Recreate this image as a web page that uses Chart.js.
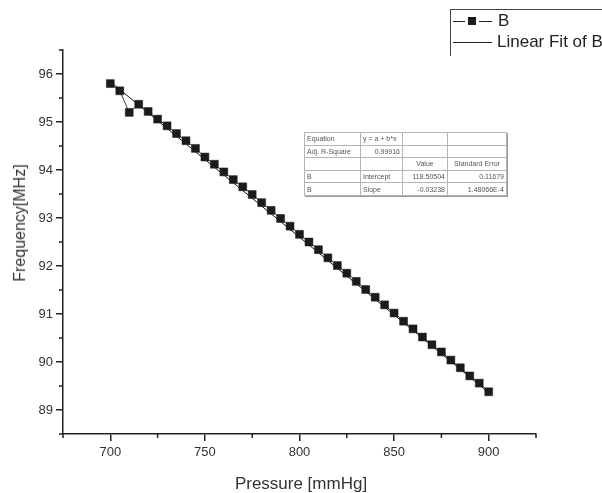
<!DOCTYPE html>
<html>
<head>
<meta charset="utf-8">
<script src="https://cdn.jsdelivr.net/npm/chart.js@4.4.1/dist/chart.umd.min.js"></script>
<style>
    body { margin: 0; background: #fff; font-family: "Liberation Sans", Arial, sans-serif; }
    #wrap { position: relative; width: 602px; height: 493px; overflow: hidden; }
    #chart { position: absolute; left: 0; top: 0; }
    .axis-title { position: absolute; color: #333; white-space: nowrap; transform: translate(-50%, -50%); }
    #ytitle { left: 20px; top: 223px; font-size: 16px; transform: translate(-50%, -50%) rotate(-90deg); }
    #xtitle { left: 301px; top: 484px; font-size: 17px; }
    #legend { position: absolute; left: 450px; top: 9px; width: 200px; height: 46px;
              border-top: 1px solid #444; border-left: 1px solid #444; }
    .lg-line { position: absolute; height: 1px; background: #222; }
    .lg-sq { position: absolute; width: 8px; height: 8px; background: #1b1b1b; }
    .lg-text { position: absolute; font-size: 17px; line-height: 20px; height: 20px; color: #222; white-space: nowrap; }
    #fit-table { position: absolute; left: 304px; top: 132px; border-collapse: collapse;
                 background: #fff; font-size: 7px; color: #555; box-shadow: 1px 1px 0 #999; }
    #fit-table td { border: 1px solid #b5b5b5; height: 11.6px; padding: 0 2px; line-height: 11px; white-space: nowrap; }
    #fit-table { border: 1px solid #888; }
    .r { text-align: right; }
    .c { text-align: center; }
</style>
</head>
<body>
<div id="wrap">
    <canvas id="chart" width="602" height="493"></canvas>
    <div class="axis-title" id="ytitle">Frequency[MHz]</div>
    <div class="axis-title" id="xtitle">Pressure [mmHg]</div>

    <div id="legend"></div>
    <div class="lg-line" style="left:453px; top:21px; width:12px;"></div>
    <div class="lg-sq" style="left:468px; top:17px;"></div>
    <div class="lg-line" style="left:479px; top:21px; width:13px;"></div>
    <div class="lg-text" style="left:498px; top:11px;">B</div>
    <div class="lg-line" style="left:453px; top:42px; width:39px;"></div>
    <div class="lg-text" style="left:497px; top:32px;">Linear Fit of B</div>

    <table id="fit-table">
        <tr><td style="width:51px">Equation</td><td style="width:37px">y = a + b*x</td><td style="width:40px"></td><td style="width:54px"></td></tr>
        <tr><td>Adj. R-Square</td><td class="r">0.99916</td><td></td><td></td></tr>
        <tr><td></td><td></td><td class="c">Value</td><td class="c">Standard Error</td></tr>
        <tr><td>B</td><td>Intercept</td><td class="r">118.50504</td><td class="r">0.11679</td></tr>
        <tr><td>B</td><td>Slope</td><td class="r">-0.03238</td><td class="r">1.48066E-4</td></tr>
    </table>
</div>

<script>
// Measured points (Pressure in mmHg, Frequency in MHz)
const pressure = [700, 705, 710, 715, 720, 725, 730, 735, 740, 745,
                  750, 755, 760, 765, 770, 775, 780, 785, 790, 795,
                  800, 805, 810, 815, 820, 825, 830, 835, 840, 845,
                  850, 855, 860, 865, 870, 875, 880, 885, 890, 895, 900];
const frequency = [95.80, 95.65, 95.20, 95.37, 95.22, 95.06, 94.92, 94.76, 94.61, 94.45,
                   94.27, 94.12, 93.96, 93.80, 93.65, 93.49, 93.32, 93.16, 92.99, 92.83,
                   92.66, 92.50, 92.34, 92.17, 92.01, 91.85, 91.68, 91.51, 91.35, 91.19,
                   91.02, 90.85, 90.69, 90.52, 90.36, 90.21, 90.04, 89.88, 89.71, 89.56, 89.38];

// Linear fit end points
const fitX = [700, 900];
const fitY = [95.839, 89.363];

// Tick positions
const xMajor = [700, 750, 800, 850, 900];
const yMajor = [89, 90, 91, 92, 93, 94, 95, 96];
const xMinor = [675, 725, 775, 825, 875, 925];
const yMinor = [88.5, 89.5, 90.5, 91.5, 92.5, 93.5, 94.5, 95.5, 96.5];

const axisColor = '#222';

// Origin-style short minor ticks, drawn outward
const minorTicks = {
    id: 'minorTicks',
    afterDraw(chart) {
        const ctx = chart.ctx;
        const xs = chart.scales.x;
        const ys = chart.scales.y;
        ctx.save();
        ctx.strokeStyle = axisColor;
        ctx.lineWidth = 1.5;
        xMinor.forEach(v => {
            const px = xs.getPixelForValue(v);
            ctx.beginPath();
            ctx.moveTo(px, xs.top);
            ctx.lineTo(px, xs.top + 4);
            ctx.stroke();
        });
        yMinor.forEach(v => {
            const py = ys.getPixelForValue(v);
            ctx.beginPath();
            ctx.moveTo(ys.right, py);
            ctx.lineTo(ys.right - 4, py);
            ctx.stroke();
        });
        ctx.restore();
    }
};

const tickFont = { family: '"Liberation Sans", Arial, sans-serif', size: 13 };

const ctx = document.getElementById('chart').getContext('2d');
const chart = new Chart(ctx, {
    type: 'scatter',
    data: {
        datasets: [{
            label: 'B',
            data: pressure.map((p, i) => ({ x: p, y: frequency[i] })),
            showLine: true,
            borderColor: '#444',
            borderWidth: 1,
            pointStyle: 'rect',
            pointRadius: 5.6,
            pointBackgroundColor: '#1b1b1b',
            pointBorderColor: '#1b1b1b',
            pointBorderWidth: 0.5,
            order: 1
        }, {
            label: 'Linear Fit of B',
            data: fitX.map((p, i) => ({ x: p, y: fitY[i] })),
            showLine: true,
            borderColor: '#111',
            borderWidth: 1,
            pointRadius: 0,
            order: 2
        }]
    },
    options: {
        responsive: false,
        animation: false,
        layout: { padding: { left: 0, right: 66, top: 50, bottom: 0 } },
        plugins: {
            legend: { display: false },
            tooltip: { enabled: false }
        },
        scales: {
            x: {
                type: 'linear',
                position: 'bottom',
                min: 675,
                max: 925,
                afterFit(scale) { scale.height = 59; },
                afterBuildTicks(scale) { scale.ticks = xMajor.map(v => ({ value: v })); },
                ticks: { color: '#333', font: tickFont, padding: 4 },
                grid: { drawOnChartArea: false, drawTicks: true, tickLength: 7, color: axisColor, lineWidth: 1.5 },
                border: { color: axisColor, width: 1.5 }
            },
            y: {
                type: 'linear',
                min: 88.5,
                max: 96.5,
                afterFit(scale) { scale.width = 63; },
                afterBuildTicks(scale) { scale.ticks = yMajor.map(v => ({ value: v })); },
                ticks: { color: '#333', font: tickFont, padding: 3 },
                grid: { drawOnChartArea: false, drawTicks: true, tickLength: 7, color: axisColor, lineWidth: 1.5 },
                border: { color: axisColor, width: 1.5 }
            }
        }
    },
    plugins: [minorTicks]
});
</script>
</body>
</html>
